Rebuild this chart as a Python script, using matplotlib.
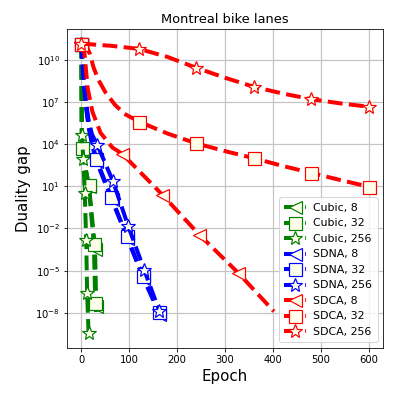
import matplotlib
matplotlib.use('Agg')
import matplotlib.pyplot as plt
import numpy as np
from matplotlib.ticker import FixedLocator, NullLocator, LogFormatterMathtext

# values (gap stored as log10)
cubic8_epoch = [0, 1, 16, 28.5, 31, 33]
cubic8_log = [11.15, 3.6, 1.0, -3.45, -7.5, -8.2]
cubic8_marks = [0, 1, 2, 3, 4]

cubic32_epoch = [0, 1, 15, 26, 29, 31]
cubic32_log = [11.15, 3.72, 1.12, -3.08, -7.34, -8.0]
cubic32_marks = [0, 1, 2, 3, 4]

cubic256_epoch = [0, 1, 4, 7, 10, 12, 15]
cubic256_log = [11.15, 4.67, 2.94, 0.53, -2.79, -6.58, -9.47]
cubic256_marks = [0, 1, 2, 3, 4, 5, 6]

sdna8_epoch = [0, 2, 5, 9, 15, 22, 31, 63, 96, 129, 163]
sdna8_log = [11.15, 9.9, 8.4, 6.8, 5.2, 4.0, 2.8, 0.1, -2.7, -5.5, -8.1]
sdna8_marks = [0, 6, 7, 8, 9, 10]

sdna32_epoch = [0, 2, 5, 9, 15, 22, 31, 62, 95, 128, 163]
sdna32_log = [11.15, 10.0, 8.6, 7.0, 5.4, 4.2, 2.94, 0.26, -2.56, -5.35, -7.98]
sdna32_marks = [0, 6, 7, 8, 9, 10]

sdna256_epoch = [0, 2, 5, 9, 15, 22, 33, 66, 98, 131, 163]
sdna256_log = [11.15, 10.2, 8.8, 7.2, 5.7, 4.7, 3.96, 1.35, -1.85, -4.93, -7.89]
sdna256_marks = [0, 6, 7, 8, 9, 10]

sdca8_epoch = [0, 6, 9, 13, 23, 40, 65, 85, 169, 246, 327, 402]
sdca8_log = [11.15, 10.6, 9.5, 8.0, 6.3, 4.8, 3.75, 3.32, 0.4, -2.44, -5.14, -7.9]
sdca8_marks = [0, 7, 8, 9, 10]

sdca32_epoch = [0, 10, 18, 25, 35, 50, 70, 90, 121, 180, 240, 300, 360, 420, 480, 540, 600]
sdca32_log = [11.15, 11.0, 10.4, 9.5, 8.6, 7.7, 6.8, 6.15, 5.59, 4.75, 4.05, 3.5, 3.0,
              2.45, 1.95, 1.45, 0.97]
sdca32_marks = [0, 8, 10, 12, 14, 16]

sdca256_epoch = [0, 60, 120, 180, 240, 300, 360, 420, 480, 540, 600]
sdca256_log = [11.15, 11.0, 10.78, 10.2, 9.43, 8.72, 8.08, 7.6, 7.2, 6.9, 6.66]
sdca256_marks = [0, 2, 4, 6, 8, 10]

ytick_exps = [10, 7, 4, 1, -2, -5, -8]

series = [
    ('Cubic, 8', cubic8_epoch, cubic8_log, cubic8_marks, 'green', '<'),
    ('Cubic, 32', cubic32_epoch, cubic32_log, cubic32_marks, 'green', 's'),
    ('Cubic, 256', cubic256_epoch, cubic256_log, cubic256_marks, 'green', '*'),
    ('SDNA, 8', sdna8_epoch, sdna8_log, sdna8_marks, 'blue', '<'),
    ('SDNA, 32', sdna32_epoch, sdna32_log, sdna32_marks, 'blue', 's'),
    ('SDNA, 256', sdna256_epoch, sdna256_log, sdna256_marks, 'blue', '*'),
    ('SDCA, 8', sdca8_epoch, sdca8_log, sdca8_marks, 'red', '<'),
    ('SDCA, 32', sdca32_epoch, sdca32_log, sdca32_marks, 'red', 's'),
    ('SDCA, 256', sdca256_epoch, sdca256_log, sdca256_marks, 'red', '*'),
]

fig = plt.figure(figsize=(399 / 72, 399 / 72), dpi=72)
ax = fig.add_axes([0.168, 0.128, 0.792, 0.799])

for name, ep, lg, marks, col, mk in series:
    ms = 14 if mk == '*' else 13
    ax.plot(ep, 10.0 ** np.array(lg), linestyle='--', linewidth=4, color=col,
            marker=mk, markersize=ms, markevery=marks, markerfacecolor='#fdfdea',
            markeredgecolor=col, markeredgewidth=1.2, label=name)

ax.set_yscale('log')
ax.yaxis.set_major_locator(FixedLocator([10.0 ** e for e in ytick_exps]))
ax.yaxis.set_major_formatter(LogFormatterMathtext())
ax.yaxis.set_minor_locator(NullLocator())
ax.grid(True, color='#c4c4c4', linewidth=1.2)
ax.tick_params(labelsize=10)

ax.set_title('Montreal bike lanes', fontsize=13)
ax.set_xlabel('Epoch', fontsize=15)
ax.set_ylabel('Duality gap', fontsize=15)
ax.legend(loc='lower right', fontsize=11, handlelength=2, labelspacing=0.5,
          borderpad=0.5, handletextpad=0.6)

fig.savefig('out.png', dpi=72)
